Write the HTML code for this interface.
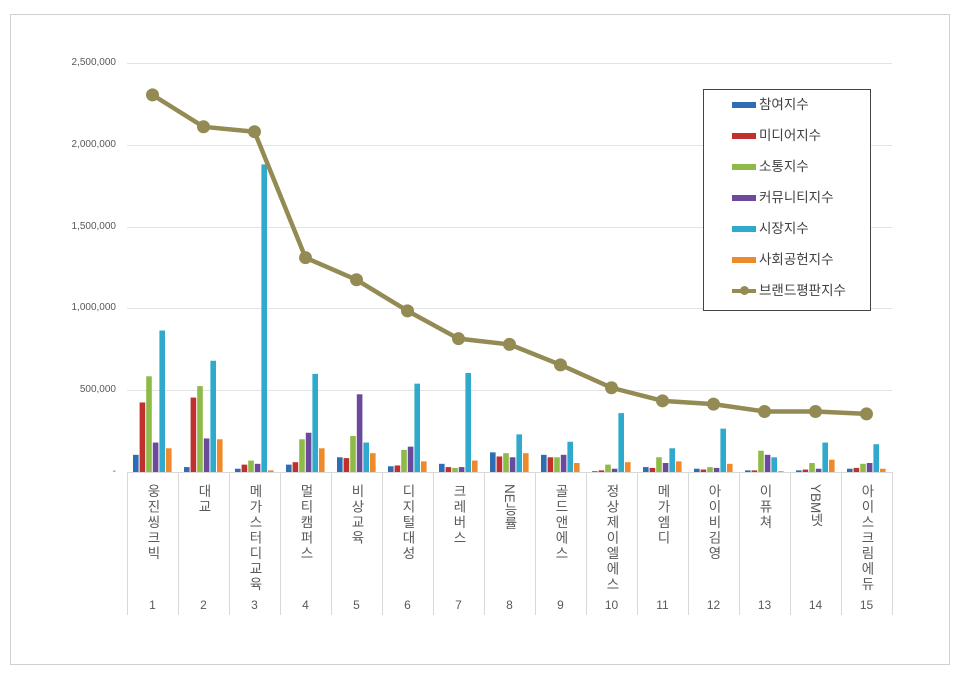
<!DOCTYPE html><html><head><meta charset="utf-8"><style>
body{margin:0;background:#fff;width:960px;height:679px;position:relative;overflow:hidden;font-family:"Liberation Sans","Noto Sans CJK KR",sans-serif}
.frame{position:absolute;left:10px;top:14px;width:938px;height:649px;border:1px solid #d0d0d0}
.cat{position:absolute;top:484px;writing-mode:vertical-rl;font-size:13.5px;color:#595959;letter-spacing:2px;line-height:14px}
.num{position:absolute;top:598px;width:51px;text-align:center;font-size:12px;color:#595959}
.yl{position:absolute;left:40px;width:76px;text-align:right;font-size:10px;color:#595959}
.legend{position:absolute;left:703px;top:89px;width:166px;height:220px;border:1px solid #444;background:#fff}
.li{position:absolute;left:28px;font-size:13.5px;color:#404040;height:20px;line-height:20px}
.sw{display:inline-block;width:24px;height:6px;vertical-align:middle;margin-right:3px}
</style></head><body>
<div class="frame"></div>
<svg id="s" width="960" height="679" style="position:absolute;left:0;top:0">
<g stroke="#e3e3e3" stroke-width="1">
<line x1="127" x2="892" y1="63.5" y2="63.5"/><line x1="127" x2="892" y1="145.5" y2="145.5"/><line x1="127" x2="892" y1="227.5" y2="227.5"/><line x1="127" x2="892" y1="308.5" y2="308.5"/><line x1="127" x2="892" y1="390.5" y2="390.5"/>
</g>
<g id="bars"></g>
<g id="vl" stroke="#d9d9d9"></g>
<line x1="127" x2="892" y1="472.5" y2="472.5" stroke="#d9d9d9"/>
<polyline id="ln" fill="none" stroke="#948a54" stroke-width="4.5" stroke-linejoin="round"/>
<g id="dots" fill="#948a54"></g>
</svg>
<div class="yl" style="top:57px">2,500,000</div>
<div class="yl" style="top:139px">2,000,000</div>
<div class="yl" style="top:221px">1,500,000</div>
<div class="yl" style="top:302px">1,000,000</div>
<div class="yl" style="top:384px">500,000</div>
<div class="yl" style="top:466px">-</div>
<div class="cat" style="left:145px">웅진씽크빅</div>
<div class="cat" style="left:196px">대교</div>
<div class="cat" style="left:247px">메가스터디교육</div>
<div class="cat" style="left:298px">멀티캠퍼스</div>
<div class="cat" style="left:349px">비상교육</div>
<div class="cat" style="left:400px">디지털대성</div>
<div class="cat" style="left:451px">크레버스</div>
<div class="cat" style="left:502px;letter-spacing:0">NE능률</div>
<div class="cat" style="left:553px">골드앤에스</div>
<div class="cat" style="left:604px">정상제이엘에스</div>
<div class="cat" style="left:655px">메가엠디</div>
<div class="cat" style="left:706px">아이비김영</div>
<div class="cat" style="left:757px">이퓨쳐</div>
<div class="cat" style="left:808px;letter-spacing:0">YBM넷</div>
<div class="cat" style="left:859px">아이스크림에듀</div>
<div class="num" style="left:127px">1</div><div class="num" style="left:178px">2</div><div class="num" style="left:229px">3</div><div class="num" style="left:280px">4</div><div class="num" style="left:331px">5</div><div class="num" style="left:382px">6</div><div class="num" style="left:433px">7</div><div class="num" style="left:484px">8</div><div class="num" style="left:535px">9</div><div class="num" style="left:586px">10</div><div class="num" style="left:637px">11</div><div class="num" style="left:688px">12</div><div class="num" style="left:739px">13</div><div class="num" style="left:790px">14</div><div class="num" style="left:841px">15</div>
<div class="legend">
<div class="li" style="top:5px"><span class="sw" style="background:#2e6db4"></span>참여지수</div>
<div class="li" style="top:36px"><span class="sw" style="background:#c0302e"></span>미디어지수</div>
<div class="li" style="top:67px"><span class="sw" style="background:#8ebb47"></span>소통지수</div>
<div class="li" style="top:98px"><span class="sw" style="background:#6b4a9c"></span>커뮤니티지수</div>
<div class="li" style="top:129px"><span class="sw" style="background:#2fa9cc"></span>시장지수</div>
<div class="li" style="top:160px"><span class="sw" style="background:#ef8a2c"></span>사회공헌지수</div>
<div class="li" style="top:191px"><span class="sw" style="background:#948a54;height:4px;position:relative"><span style="position:absolute;left:8px;top:-3px;width:9px;height:9px;border-radius:50%;background:#948a54"></span></span>브랜드평판지수</div>
</div>
<script>
var d=[[105,425,585,180,865,145,2305],[30,455,525,205,680,200,2110],[20,45,70,50,1880,10,2080],[45,60,200,240,600,145,1310],[90,85,220,475,180,115,1175],[35,40,135,155,540,65,985],[50,30,25,30,605,70,815],[120,95,115,90,230,115,780],[105,90,90,105,185,55,655],[5,10,45,20,360,60,515],[30,25,90,55,145,65,435],[20,15,30,25,265,50,415],[10,10,130,105,90,5,370],[10,15,55,20,180,75,370],[20,25,50,55,170,20,355]];
var c=["#2e6db4","#c0302e","#8ebb47","#6b4a9c","#2fa9cc","#ef8a2c"];
var ns="http://www.w3.org/2000/svg",b=document.getElementById("bars"),v=document.getElementById("vl"),dt=document.getElementById("dots"),pts=[];
function Y(k){return 472-k*0.1636}
for(var i=0;i<15;i++){var x0=127+i*51;
for(var j=0;j<6;j++){var r=document.createElementNS(ns,"rect");var h=d[i][j]*0.1636;r.setAttribute("x",x0+6+j*6.6);r.setAttribute("width",5.6);r.setAttribute("y",472-h);r.setAttribute("height",h);r.setAttribute("fill",c[j]);b.appendChild(r);}
var l=document.createElementNS(ns,"line");l.setAttribute("x1",x0+.5);l.setAttribute("x2",x0+.5);l.setAttribute("y1",472);l.setAttribute("y2",615);v.appendChild(l);
var cx=x0+25.5,cy=Y(d[i][6]);pts.push(cx+","+cy);var e=document.createElementNS(ns,"circle");e.setAttribute("cx",cx);e.setAttribute("cy",cy);e.setAttribute("r",6.5);dt.appendChild(e);}
var l=document.createElementNS(ns,"line");l.setAttribute("x1",892.5);l.setAttribute("x2",892.5);l.setAttribute("y1",472);l.setAttribute("y2",615);v.appendChild(l);
document.getElementById("ln").setAttribute("points",pts.join(" "));
</script>
</body></html>
